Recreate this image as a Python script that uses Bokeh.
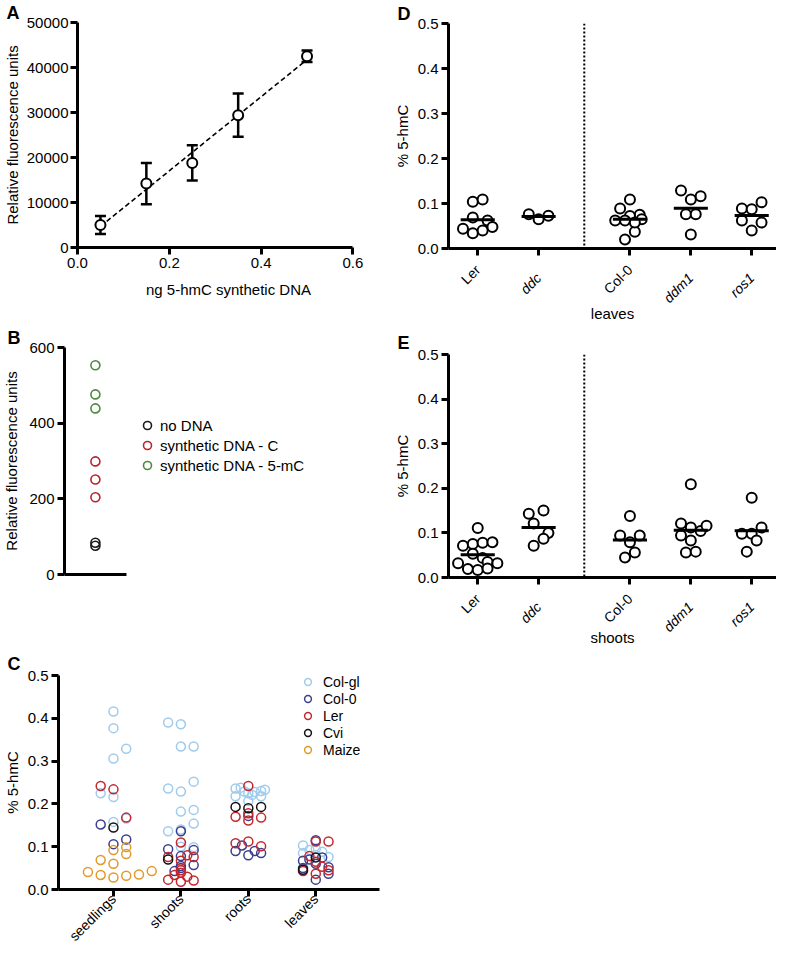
import numpy as np
from math import pi
from bokeh.plotting import figure
from bokeh.models import (ColumnDataSource, Whisker, TeeHead, Span, LinearAxis,
                          Legend, LegendItem, FixedTicker, Range1d, NumeralTickFormatter)
from bokeh.layouts import row, column
from bokeh.embed import file_html
from bokeh.resources import INLINE

FONT = "Liberation Sans"

# ---------------- Panel A data ----------------
a_ng = [0.05, 0.15, 0.25, 0.35, 0.50]
a_rfu = [5000, 14200, 18800, 29400, 42500]
a_sd = [2000, 4600, 3900, 4800, 1300]
a_xticks = [0.0, 0.2, 0.4, 0.6]
a_yticks = [0, 10000, 20000, 30000, 40000, 50000]

# ---------------- Panel B data ----------------
b_series = ["no DNA", "synthetic DNA - C", "synthetic DNA - 5-mC"]
b_no_dna = [84, 76]
b_syn_c = [299, 251, 204]
b_syn_5mc = [553, 476, 439]
b_colors = ["#1a1a1a", "#b8262b", "#4d8a3f"]
b_yticks = [0, 200, 400, 600]

# ---------------- Panel C data ----------------
c_tissues = ["seedlings", "shoots", "roots", "leaves"]
c_lines = ["Col-gl", "Col-0", "Ler", "Cvi", "Maize"]
c_colors = ["#9fcbec", "#3d3f8c", "#c3282e", "#111111", "#e09a2c"]
c_yticks = [0.0, 0.1, 0.2, 0.3, 0.4, 0.5]

# tissue index, column slot (jitter), % 5-hmC
colgl_t = [0, 0, 0, 0, 0, 0, 0, 0,
           1, 1, 1, 1, 1, 1, 1, 1, 1, 1, 1, 1, 1, 1,
           2, 2, 2, 2, 2, 2, 2, 2, 2, 2, 2,
           3, 3, 3, 3, 3, 3, 3]
colgl_s = [0, 0, 1, 0, -1, 0, 0, 1,
           -1, 0, 0, 1, -1, 0, 1, 0, 1, 1, -1, 0, 1, 0,
           -1, -0.6, -0.3, 0, 0.5, 1, 1.3, -1, 1, 0, 0.3,
           -1, -1, 0, 0.5, 1, -0.5, 0]
colgl_v = [0.416, 0.377, 0.329, 0.306, 0.225, 0.216, 0.158, 0.166,
           0.390, 0.386, 0.334, 0.334, 0.236, 0.229, 0.252, 0.182, 0.186, 0.154, 0.136, 0.140, 0.099, 0.100,
           0.236, 0.238, 0.229, 0.225, 0.228, 0.230, 0.233, 0.218, 0.218, 0.207, 0.221,
           0.103, 0.085, 0.095, 0.088, 0.076, 0.092, 0.080]

col0_t = [0, 0, 0,
          1, 1, 1, 1, 1, 1, 1, 1,
          2, 2, 2, 2, 2, 2,
          3, 3, 3, 3, 3, 3, 3, 3, 3]
col0_s = [-1, 0, 1,
          0, -1, 1, 0, 0, 1, -0.5, 0,
          -0.5, -1, 0, 0.5, 1, 0,
          0, -1, -1, 0, -0.5, 1, 1, 0, 0.5]
col0_v = [0.152, 0.106, 0.117,
          0.136, 0.094, 0.092, 0.078, 0.055, 0.057, 0.043, 0.050,
          0.103, 0.090, 0.080, 0.090, 0.085, 0.172,
          0.115, 0.067, 0.050, 0.060, 0.070, 0.052, 0.037, 0.023, 0.075]

ler_t = [0, 0, 0,
         1, 1, 1, 1, 1, 1, 1, 1, 1, 1, 1, 1,
         2, 2, 2, 2, 2, 2, 2, 2,
         3, 3, 3, 3, 3, 3, 3, 3]
ler_s = [-1, 0, 1,
         0, -1, 0.5, 1, 0, 0, -1, -0.5, 0, 0, 0.5, 1,
         0, -1, 0, 1, 0, -1, 0, 1,
         0, 1, -0.5, 0.5, 0, 1, -1, 0]
ler_v = [0.242, 0.234, 0.168,
         0.110, 0.076, 0.080, 0.076, 0.067, 0.045, 0.023, 0.034, 0.039, 0.018, 0.030, 0.021,
         0.242, 0.170, 0.161, 0.168, 0.178, 0.108, 0.112, 0.101,
         0.112, 0.112, 0.078, 0.053, 0.037, 0.045, 0.043, 0.065]

cvi_t = [0, 1, 2, 2, 2, 3, 3]
cvi_s = [0, -1, -1, 0, 1, -1, 0]
cvi_v = [0.145, 0.070, 0.193, 0.190, 0.193, 0.046, 0.075]

maize_t = [0, 0, 0, 0, 0, 0, 0, 0, 0, 0, 0]
maize_s = [0, 1, 1, -1, 0, -2, -1, 0, 1, 2, 3]
maize_v = [0.092, 0.099, 0.083, 0.069, 0.060, 0.041, 0.034, 0.028, 0.032, 0.035, 0.043]

# ---------------- Panels D / E data ----------------
de_geno = ["Ler", "ddc", "Col-0", "ddm1", "ros1"]
de_group = [0, 0, 1, 1, 1]
de_italic = [False, True, False, True, True]
de_yticks = [0.0, 0.1, 0.2, 0.3, 0.4, 0.5]

# leaves (D)
lv_ler = [0.104, 0.109, 0.069, 0.062, 0.044, 0.034, 0.040, 0.048]
lv_ler_s = [-0.5, 0.5, -0.5, 1, -1.5, -0.5, 0.5, 1.5]
lv_ddc = [0.076, 0.065, 0.073]
lv_ddc_s = [-1, 0, 1]
lv_col0 = [0.109, 0.089, 0.075, 0.072, 0.062, 0.062, 0.065, 0.037, 0.020, 0.058]
lv_col0_s = [0, -1, 1, 0, -1.5, -0.5, 1.2, 0.5, -0.5, 0.5]
lv_ddm1 = [0.129, 0.109, 0.116, 0.076, 0.076, 0.031]
lv_ddm1_s = [-1, 0, 1, -0.5, 0.5, 0]
lv_ros1 = [0.089, 0.087, 0.103, 0.062, 0.058, 0.040]
lv_ros1_s = [-1, 0, 1, -1, 1, 0]

# shoots (E)
sh_ler = [0.111, 0.071, 0.075, 0.078, 0.079, 0.053, 0.044, 0.032, 0.035, 0.032, 0.019, 0.017, 0.020]
sh_ler_s = [0, -1.5, -0.5, 0.5, 1.5, -0.5, 0.5, -2, 1, 2, -1, 0, 1]
sh_ddc = [0.143, 0.150, 0.121, 0.100, 0.087, 0.071]
sh_ddc_s = [-1, 0.5, -0.5, 1, 0.5, -0.5]
sh_col0 = [0.138, 0.094, 0.094, 0.079, 0.056, 0.045]
sh_col0_s = [0, -1, 1, 0, 0.5, -0.5]
sh_ddm1 = [0.209, 0.121, 0.112, 0.104, 0.116, 0.094, 0.083, 0.056, 0.058]
sh_ddm1_s = [0, -1, 0, 1, 1.6, -1, 0, -0.5, 0.5]
sh_ros1 = [0.179, 0.112, 0.098, 0.098, 0.083, 0.058]
sh_ros1_s = [0, 1, -1, 0, 0.5, -0.5]


# ---------------- helpers ----------------
def style_axis(ax, size="15px"):
    ax.axis_line_width = 3
    ax.axis_line_color = "black"
    ax.major_tick_line_width = 3
    ax.major_tick_line_color = "black"
    ax.major_tick_out = 7
    ax.major_tick_in = 0
    ax.minor_tick_line_color = None
    ax.major_label_text_font = FONT
    ax.major_label_text_font_size = size
    ax.major_label_text_color = "black"
    ax.major_label_standoff = 3
    ax.axis_label_text_font = FONT
    ax.axis_label_text_font_size = "15px"
    ax.axis_label_text_font_style = "normal"
    ax.axis_label_text_color = "black"


def base_fig(width, height, xr, yr, mbl, mbr, mbt, mbb, letter, letter_dx, letter_standoff):
    p = figure(width=width, height=height, x_range=xr, y_range=yr,
               output_backend="svg", toolbar_location=None, frame_align=False,
               min_border_left=mbl, min_border_right=mbr,
               min_border_top=mbt, min_border_bottom=mbb, title=letter)
    p.outline_line_color = None
    p.xgrid.visible = False
    p.ygrid.visible = False
    p.background_fill_color = "white"
    p.border_fill_color = "white"
    p.title.text_font = FONT
    p.title.text_font_size = "18px"
    p.title.text_font_style = "bold"
    p.title.text_color = "black"
    p.title.align = "left"
    p.title.offset = letter_dx
    p.title.standoff = letter_standoff
    for ax in p.axis:
        style_axis(ax)
    return p


LEFT_W = 390
LEFT_MBR = 11

# ---------------- Panel A ----------------
A_UNIT = 280 / 0.6          # px per ng
a_frame_w = LEFT_W - 72 - LEFT_MBR
pa = base_fig(LEFT_W, 320, Range1d(0, a_frame_w / A_UNIT), Range1d(0, 50000),
              72, LEFT_MBR, 22, 73, "A", -71, 0)
pa.xaxis.ticker = FixedTicker(ticks=a_xticks)
pa.xaxis.bounds = (a_xticks[0], a_xticks[-1])
pa.xaxis.formatter = NumeralTickFormatter(format="0.0")
pa.yaxis.ticker = FixedTicker(ticks=a_yticks)
pa.yaxis.formatter = NumeralTickFormatter(format="0")
pa.yaxis.major_label_standoff = 2
pa.xaxis.axis_label = "ng 5-hmC synthetic DNA"
pa.yaxis.axis_label = "Relative fluorescence units"
pa.xaxis.axis_label_standoff = 10
pa.yaxis.axis_label_standoff = 3

slope, icpt = np.polyfit(a_ng, a_rfu, 1)
fit_x = [min(a_ng), max(a_ng)]
pa.line(fit_x, [slope * v + icpt for v in fit_x], line_color="black",
        line_width=1.6, line_dash="5 3")
src_a = ColumnDataSource(dict(x=a_ng, y=a_rfu,
                              lo=[m - s for m, s in zip(a_rfu, a_sd)],
                              hi=[m + s for m, s in zip(a_rfu, a_sd)]))
pa.add_layout(Whisker(base="x", upper="hi", lower="lo", source=src_a, dimension="height",
                      level="underlay", line_width=2.5, line_color="black",
                      upper_head=TeeHead(size=11, line_width=2.5, line_color="black"),
                      lower_head=TeeHead(size=11, line_width=2.5, line_color="black")))
pa.scatter("x", "y", source=src_a, marker="circle", size=10, line_color="black",
           line_width=2, fill_color="white")

# ---------------- Panel B ----------------
b_frame_w = LEFT_W - 58 - LEFT_MBR
pb = base_fig(LEFT_W, 316, Range1d(0, b_frame_w / 63.0), Range1d(0, 600),
              58, LEFT_MBR, 27, 62, "B", -57, 0)
pb.yaxis.ticker = FixedTicker(ticks=b_yticks)
pb.yaxis.formatter = NumeralTickFormatter(format="0")
pb.yaxis.axis_label = "Relative fluorescence units"
pb.yaxis.axis_label_standoff = 6
pb.xaxis.ticker = FixedTicker(ticks=[])
pb.xaxis.bounds = (0, 1)
b_items = []
for name, vals, col in zip(b_series, [b_no_dna, b_syn_c, b_syn_5mc], b_colors):
    r = pb.scatter([0.5] * len(vals), vals, marker="circle", size=9, line_color=col,
                   line_width=1.6, fill_color=None)
    b_items.append(LegendItem(label=name, renderers=[r]))
pb.add_layout(Legend(items=b_items, location=(73, 99), glyph_width=20, glyph_height=20,
                     label_height=20, spacing=0, padding=0, margin=0, label_standoff=3,
                     border_line_color=None, background_fill_alpha=0,
                     label_text_font=FONT, label_text_font_size="15px",
                     label_text_color="black"))

# ---------------- Panel C ----------------
C_UNIT = 68.7
c_x0 = 0.185
c_frame_w = LEFT_W - 52 - LEFT_MBR
pc = base_fig(LEFT_W, 316, Range1d(c_x0, c_x0 + c_frame_w / C_UNIT), Range1d(0, 0.5),
              52, LEFT_MBR, 39, 60, "C", -51, 4)
c_pos = [i + 1 for i in range(len(c_tissues))]
pc.xaxis.ticker = FixedTicker(ticks=c_pos)
pc.xaxis.major_label_overrides = {p_: t for p_, t in zip(c_pos, c_tissues)}
pc.xaxis.major_label_orientation = pi / 4
pc.xaxis.major_label_text_font_size = "14px"
pc.xaxis.major_label_standoff = 0
pc.yaxis.ticker = FixedTicker(ticks=c_yticks)
pc.yaxis.formatter = NumeralTickFormatter(format="0.0")
pc.yaxis.axis_label = "% 5-hmC"
pc.yaxis.axis_label_standoff = 4
C_STEP = 13.0 / C_UNIT
c_items = []
for name, col, (tt, ss, vv) in zip(c_lines, c_colors,
                                   [(colgl_t, colgl_s, colgl_v), (col0_t, col0_s, col0_v),
                                    (ler_t, ler_s, ler_v), (cvi_t, cvi_s, cvi_v),
                                    (maize_t, maize_s, maize_v)]):
    xs = [c_pos[t] + s * C_STEP for t, s in zip(tt, ss)]
    r = pc.scatter(xs, vv, marker="circle", size=9, line_color=col, line_width=1.5,
                   fill_color=None)
    c_items.append(LegendItem(label=name, renderers=[r]))
pc.add_layout(Legend(items=c_items, location=(241, 131), glyph_width=17, glyph_height=17,
                     label_height=17, spacing=0, padding=0, margin=0, label_standoff=7,
                     border_line_color=None, background_fill_alpha=0,
                     label_text_font=FONT, label_text_font_size="14px",
                     label_text_color="black"))

# ---------------- Panels D & E ----------------
DE_UNIT = 62.0
de_x0 = -0.48
de_x1 = de_x0 + 334 / DE_UNIT
de_pos = [i + 0.5 * g for i, g in enumerate(de_group)]
DE_STEP = 10.0 / DE_UNIT
LBL_STANDOFF = 12
LBL_PULLBACK = -35   # italic labels sit on a second axis, pulled back onto the first


def dot_panel(values, slots, xlabel, height, mbt, mbb, letter_txt, letter_standoff,
              label_standoff):
    p = base_fig(386, height, Range1d(de_x0, de_x1), Range1d(0, 0.5), 52, 0, mbt, mbb,
                 letter_txt, -51, letter_standoff)
    p.yaxis.ticker = FixedTicker(ticks=de_yticks)
    p.yaxis.formatter = NumeralTickFormatter(format="0.0")
    p.yaxis.axis_label = "% 5-hmC"
    p.yaxis.axis_label_standoff = 4
    ax = p.xaxis[0]
    ax.ticker = FixedTicker(ticks=de_pos)
    ax.major_label_overrides = {x: ("" if f else n)
                                for x, n, f in zip(de_pos, de_geno, de_italic)}
    ax.major_label_orientation = pi / 4
    ax.major_label_text_font_size = "14px"
    ax.major_label_standoff = LBL_STANDOFF
    it_pos = [x for x, f in zip(de_pos, de_italic) if f]
    ax2 = LinearAxis(ticker=FixedTicker(ticks=it_pos),
                     major_label_overrides={x: n for x, n, f in
                                            zip(de_pos, de_geno, de_italic) if f},
                     major_label_orientation=pi / 4)
    style_axis(ax2, "14px")
    ax2.axis_line_color = None
    ax2.major_tick_out = 0
    ax2.major_tick_line_color = None
    ax2.major_label_text_font_style = "italic"
    ax2.major_label_standoff = LBL_STANDOFF + LBL_PULLBACK - 7
    ax2.axis_label = xlabel
    ax2.axis_label_standoff = label_standoff
    p.add_layout(ax2, "below")
    p.add_layout(Span(location=(de_pos[1] + de_pos[2]) / 2, dimension="height",
                      line_color="black", line_width=2, line_dash="2 2"))
    xs, ys = [], []
    for pos, vals, sl in zip(de_pos, values, slots):
        xs += [pos + s * DE_STEP for s in sl]
        ys += vals
    p.scatter(xs, ys, marker="circle", size=10, line_color="black", line_width=2,
              fill_color="white")
    means = [float(np.mean(v)) for v in values]
    p.segment(x0=[x - 0.28 for x in de_pos], x1=[x + 0.28 for x in de_pos],
              y0=means, y1=means, line_color="black", line_width=3)
    return p


pd_ = dot_panel([lv_ler, lv_ddc, lv_col0, lv_ddm1, lv_ros1],
                [lv_ler_s, lv_ddc_s, lv_col0_s, lv_ddm1_s, lv_ros1_s],
                "leaves", 328, 23, 80, "D", 0, -10)
pe_ = dot_panel([sh_ler, sh_ddc, sh_col0, sh_ddm1, sh_ros1],
                [sh_ler_s, sh_ddc_s, sh_col0_s, sh_ddm1_s, sh_ros1_s],
                "shoots", 324, 25, 75, "E", 4, -15)

layout = row(column(pa, pb, pc), column(pd_, pe_))
open("out.html", "w").write(file_html(layout, INLINE))
